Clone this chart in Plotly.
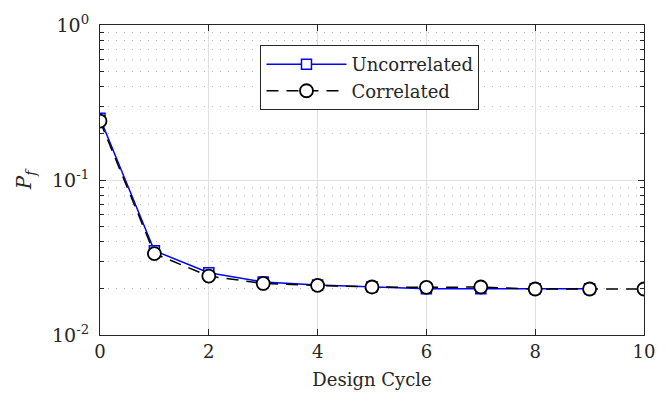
import plotly.graph_objects as go

cycles_unc = [0, 1, 2, 3, 4, 5, 6, 7, 8, 9]
pf_unc = [0.250, 0.0350, 0.0252, 0.0220, 0.0210, 0.0205, 0.0199, 0.0199, 0.0199, 0.0199]
cycles_cor = [0, 1, 2, 3, 4, 5, 6, 7, 8, 9, 10]
pf_cor = [0.240, 0.0335, 0.0240, 0.0215, 0.0209, 0.0204, 0.0203, 0.0204, 0.0198, 0.0198, 0.0198]
x_ticks = [0, 2, 4, 6, 8, 10]
y_tickvals = [0.01, 0.1, 1]
y_ticktext = ["10<sup>-2</sup>", "10<sup>-1</sup>", "10<sup>0</sup>"]
y_minor = [m * d for d in (0.01, 0.1) for m in range(2, 10)]

FONT = "DejaVu Serif"
AX = "#262626"

fig = go.Figure()
fig.add_trace(go.Scatter(
    x=cycles_unc, y=pf_unc, name="Uncorrelated", mode="lines+markers",
    line=dict(color="#0000ff", width=1.5),
    marker=dict(symbol="square", size=10, color="white", line=dict(color="#0000ff", width=1.5)),
))
fig.add_trace(go.Scatter(
    x=cycles_cor, y=pf_cor, name="Correlated", mode="lines+markers",
    line=dict(color="black", width=1.5, dash="12px,8px"),
    marker=dict(symbol="circle", size=13, color="white", line=dict(color="black", width=1.8)),
))

fig.update_layout(
    width=670, height=398,
    margin=dict(l=100, r=26, t=24, b=62),
    paper_bgcolor="white", plot_bgcolor="white",
    font=dict(family=FONT, size=18, color=AX),
    showlegend=True,
    legend=dict(x=0.295, y=0.935, xanchor="left", yanchor="top",
                bgcolor="white", bordercolor=AX, borderwidth=1,
                font=dict(family=FONT, size=18, color=AX),
                itemwidth=80, tracegroupgap=0),
)
fig.update_xaxes(
    range=[0, 10], tickvals=x_ticks, ticks="inside", ticklen=6, tickcolor=AX,
    showline=True, linecolor=AX, linewidth=1.2, mirror="ticks",
    showgrid=True, gridcolor="#e0e0e0", gridwidth=1, zeroline=False,
    title=dict(text="Design Cycle", font=dict(family=FONT, size=18, color=AX), standoff=12),
    tickfont=dict(family=FONT, size=18, color=AX),
)
fig.update_yaxes(
    type="log", range=[-2, 0], tickvals=y_tickvals, ticktext=y_ticktext,
    ticks="inside", ticklen=6, tickcolor=AX, ticklabelstandoff=6,
    showline=True, linecolor=AX, linewidth=1.2, mirror="ticks",
    showgrid=True, gridcolor="#e0e0e0", gridwidth=1, zeroline=False,
    minor=dict(tickmode="array", tickvals=y_minor, ticks="inside", ticklen=4, tickcolor=AX,
               showgrid=True, gridcolor="#c0c0c0", griddash="1px,7px", gridwidth=1.3),
    title=dict(text="<i>P<sub>f</sub></i>", font=dict(family=FONT, size=20, color=AX), standoff=14),
    tickfont=dict(family=FONT, size=19, color=AX),
)

fig.write_html("out.html")
